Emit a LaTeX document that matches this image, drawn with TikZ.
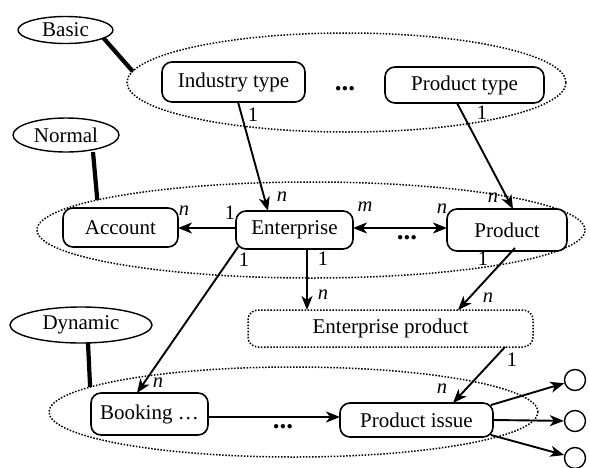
\documentclass[tikz,border=0pt]{standalone}
\usepackage{fontspec}
\setmainfont{Liberation Serif}
\usetikzlibrary{arrows.meta,shapes.geometric}
\begin{document}
\begin{tikzpicture}[x=1pt,y=-1pt,
  every node/.style={font=\fontsize{21}{25}\selectfont},
  entbox/.style={draw, fill=white, rounded corners=10pt, line width=1.6pt, inner sep=0pt, outer sep=0pt},
  epbox/.style={draw, rounded corners=10pt, line width=1.5pt, dash pattern=on 1.5pt off 1.6pt, inner sep=0pt, outer sep=0pt},
  grp/.style={ellipse, draw, line width=1.5pt, dash pattern=on 1.5pt off 1.6pt, inner sep=0pt, outer sep=0pt},
  tag/.style={ellipse, draw, line width=1.4pt, inner sep=0pt, outer sep=0pt},
  link/.style={line width=4.2pt},
  tip/.style={Stealth[length=14pt,width=11pt,inset=4pt]},
  rel/.style={line width=1.9pt, -{Stealth[length=14pt,width=11pt,inset=4pt]}},
  relboth/.style={line width=1.9pt, {Stealth[length=14pt,width=11pt,inset=4pt]}-{Stealth[length=14pt,width=11pt,inset=4pt]}},
  card/.style={font=\fontsize{20.5}{24}\selectfont, inner sep=0pt},
  dotsnode/.style={font=\fontsize{27}{30}\selectfont\bfseries, inner sep=0pt},
  port/.style={circle, draw, line width=1.4pt, minimum size=21pt, inner sep=0pt}
]
\useasboundingbox (0,0) rectangle (590,467);

% group ellipses
\node[grp, minimum width=439pt, minimum height=99pt] (basicL) at (346.5,82.5) {};
\node[grp, minimum width=548pt, minimum height=96pt] (normalL) at (311,230) {};
\node[grp, minimum width=489pt, minimum height=90pt] (dynL) at (293.5,412) {};

% tags
\node[tag, minimum width=95pt, minimum height=27pt] (basic) at (65.5,30) {Basic};
\node[tag, minimum width=106pt, minimum height=34pt] (normal) at (66,135) {Normal};
\node[tag, minimum width=142pt, minimum height=36pt] (dynamic) at (81,325) {Dynamic};

\draw[link] (basic.-12) -- (basicL.177.7);
\draw[link] ([xshift=27pt]normal.south) -- (normalL.172);
\draw[link] ([xshift=7pt]dynamic.south) -- (dynL.173);

% entities
\node[entbox, minimum width=143pt, minimum height=40pt] (ind) at (233.5,82) {Industry type};
\node[entbox, minimum width=159pt, minimum height=36pt] (ptype) at (464.5,85) {Product type};
\node[entbox, minimum width=115pt, minimum height=39pt] (acc) at (120.5,227.5) {Account};
\node[entbox, minimum width=117pt, minimum height=38pt] (ent) at (294.5,230) {Enterprise};
\node[entbox, minimum width=120pt, minimum height=42pt] (prod) at (507,230) {Product};
\node[epbox, minimum width=285pt, minimum height=37pt] (ep) at (390.5,328.5) {Enterprise product};
\node[entbox, minimum width=117pt, minimum height=42pt] (book) at (149.5,414) {Booking \ldots};
\node[entbox, minimum width=153pt, minimum height=34pt] (pi) at (416.5,420) {Product issue};

\node[port] (c1) at (575,380) {};
\node[port] (c2) at (575,421) {};
\node[port] (c3) at (575,458) {};

% dots
\node[dotsnode] (d1) at (345,89) {...};
\node[dotsnode] (d2) at (407,238) {...};
\node[dotsnode] (d3) at (283,427) {...};

% relations
\draw[rel] ([xshift=4.5pt]ind.south) -- ([xshift=-26.5pt]ent.north);
\draw[rel] ([xshift=-7.5pt]ptype.south) -- ([xshift=6pt]prod.north);
\draw[rel] ([yshift=2pt]ent.west) -- ([yshift=2pt]ent.west -| acc.east);
\draw[relboth] ([yshift=2pt]ent.east) -- ([yshift=2pt]ent.east -| prod.west);
\draw[rel] ([xshift=12.5pt]ent.south) -- ([xshift=12.5pt]ent.south |- ep.north);
\draw[rel] ([xshift=8pt,yshift=3pt]prod.south) -- ([xshift=67.5pt]ep.north);
\draw[rel] ([xshift=2pt,yshift=2pt]ent.south west) -- ([xshift=-12.5pt]book.north);
\draw[rel] ([yshift=-3pt]book.east) -- ([yshift=-3pt]book.east -| pi.west);
\draw[rel] ([xshift=114.5pt]ep.south) -- ([xshift=36.5pt]pi.north);
\draw[rel] ([xshift=-2pt,yshift=-2pt]pi.north east) -- (c1);
\draw[rel] (pi.east) -- (c2);
\draw[rel] ([xshift=-2pt,yshift=2pt]pi.south east) -- (c3);

% cardinalities
\node[card] (l1) at (253,115) {1};
\node[card] (l2) at (282,197) {\textit{n}};
\node[card] (l3) at (482,113) {1};
\node[card] (l4) at (493,198) {\textit{n}};
\node[card] (l5) at (230,213) {1};
\node[card] (l6) at (184,211) {\textit{n}};
\node[card] (l7) at (365,207) {\textit{m}};
\node[card] (l8) at (442,209) {\textit{n}};
\node[card] (l9) at (323,259) {1};
\node[card] (l10) at (323,295) {\textit{n}};
\node[card] (l11) at (483,259) {1};
\node[card] (l12) at (488,298) {\textit{n}};
\node[card] (l13) at (244,260) {1};
\node[card] (l14) at (158,383) {\textit{n}};
\node[card] (l15) at (512,360) {1};
\node[card] (l16) at (442,389) {\textit{n}};
\end{tikzpicture}
\end{document}
